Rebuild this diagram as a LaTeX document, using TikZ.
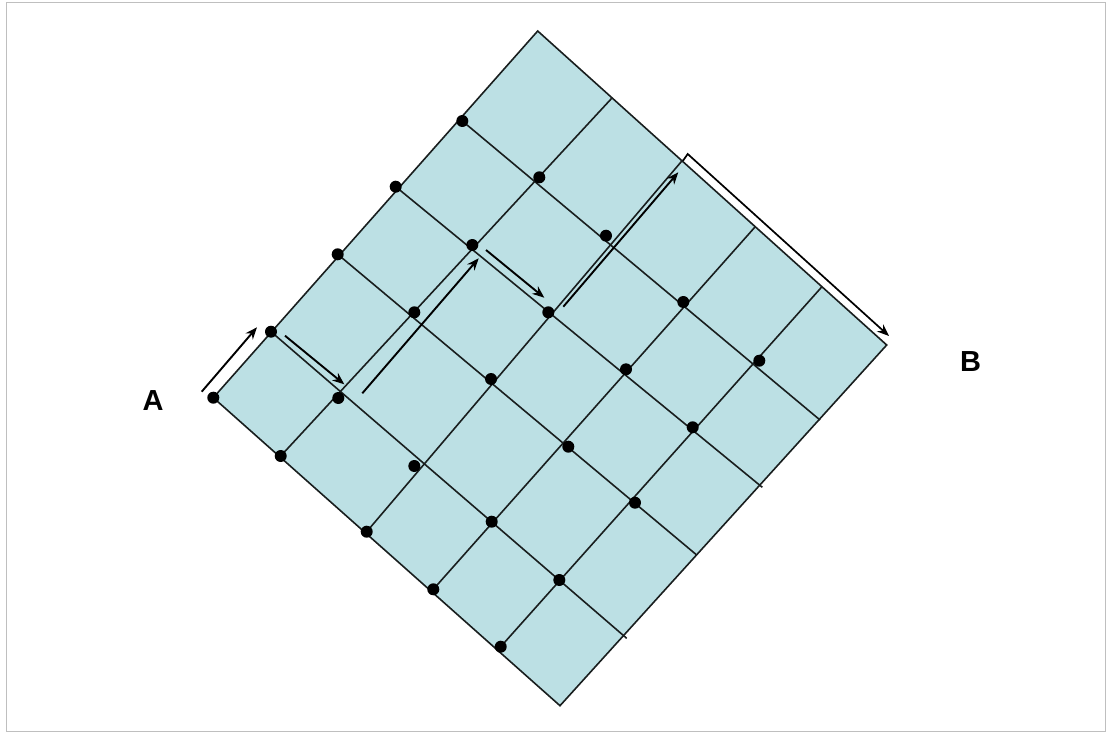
\documentclass[tikz,border=0pt]{standalone}
\usepackage{fontspec}
\setmainfont{Liberation Sans}
\usetikzlibrary{arrows.meta}
\definecolor{cellfill}{RGB}{188,224,228}
\definecolor{gridink}{RGB}{25,30,30}
\begin{document}
\begin{tikzpicture}[x=1pt,y=-1pt,
  gridline/.style={line width=1.6pt, draw=gridink},
  dot/.style={circle, fill=black, inner sep=0pt, minimum size=12pt},
  arr/.style={line width=1.9pt, draw=black, -{Stealth[length=12pt,width=9.5pt]}},
  lbl/.style={font=\fontsize{29}{29}\selectfont\bfseries, inner sep=0pt}]
\useasboundingbox (0,0) rectangle (1111,733);
\draw[black!25, line width=0.8pt] (6,2) rectangle (1105,731);
% outline corners
\coordinate (L) at (213.3,397.7);
\coordinate (T) at (537.7,31);
\coordinate (R) at (886.7,345);
\coordinate (Bo) at (560,705.7);
\fill[cellfill] (L) -- (T) -- (R) -- (Bo) -- cycle;
% down-right grid lines
\coordinate (v1a) at (271,331.7);   \coordinate (v1b) at (626.7,638.3);
\coordinate (v2a) at (337.7,254.3); \coordinate (v2b) at (696.7,555);
\coordinate (v3a) at (395.7,186.7); \coordinate (v3b) at (762.3,487.3);
\coordinate (v4a) at (462.3,121);   \coordinate (v4b) at (820,420);
% up-right grid lines
\coordinate (u1a) at (280.7,456);   \coordinate (u1b) at (611.7,98.3);
\coordinate (u2a) at (366.7,531.7); \coordinate (u2b) at (682.7,160);
\coordinate (u3a) at (433.3,589.3); \coordinate (u3b) at (755,227);
\coordinate (u4a) at (500.7,646.7); \coordinate (u4b) at (821.7,287);
\foreach \k in {1,2,3,4}{
  \draw[gridline] (v\k a) -- (v\k b);
  \draw[gridline] (u\k a) -- (u\k b);
}
\draw[gridline, line join=miter] (L) -- (T) -- (R) -- (Bo) -- cycle;
% dots
\node[dot] (d00) at (213.3,397.7) {};
\node[dot] (d10) at (280.7,456) {};
\node[dot] (d20) at (366.7,531.7) {};
\node[dot] (d30) at (433.3,589.3) {};
\node[dot] (d40) at (500.7,646.7) {};
\node[dot] (d01) at (271,331.7) {};
\node[dot] (d02) at (337.7,254.3) {};
\node[dot] (d03) at (395.7,186.7) {};
\node[dot] (d04) at (462.3,121) {};
\node[dot] (d11) at (338.3,398) {};
\node[dot] (d12) at (414.3,312.3) {};
\node[dot] (d13) at (472.3,245) {};
\node[dot] (d14) at (539.3,177.3) {};
\node[dot] (d21) at (414.3,466) {};
\node[dot] (d22) at (491,379) {};
\node[dot] (d23) at (548.3,312.3) {};
\node[dot] (d24) at (606,235.7) {};
\node[dot] (d31) at (491.7,521.7) {};
\node[dot] (d32) at (568.3,446.7) {};
\node[dot] (d33) at (626,369.3) {};
\node[dot] (d34) at (683.3,302) {};
\node[dot] (d41) at (559.3,580) {};
\node[dot] (d42) at (635,502.7) {};
\node[dot] (d43) at (692.7,427.3) {};
\node[dot] (d44) at (759.3,360.7) {};
% path arrows
\coordinate (a1s) at (201.7,391.7); \coordinate (a1e) at (257,327.3);
\coordinate (a2s) at (285,335.7);   \coordinate (a2e) at (344.3,384.3);
\coordinate (a3s) at (362.3,393.3); \coordinate (a3e) at (478.7,258.3);
\coordinate (a4s) at (486,250);     \coordinate (a4e) at (544.3,297.7);
\coordinate (a5s) at (563.3,306.7); \coordinate (a5e) at (678.3,172.3);
\draw[arr] (a1s) -- (a1e);
\draw[arr] (a2s) -- (a2e);
\draw[arr] (a3s) -- (a3e);
\draw[arr] (a4s) -- (a4e);
\draw[arr] (a5s) -- (a5e);
% bracket arrow along top-right side
\coordinate (b0) at (683,160.7);
\coordinate (b1) at (687.7,154);
\coordinate (b2) at (889,336);
\draw[arr, line width=1.7pt, line join=miter] (b0) -- (b1) -- (b2);
% labels
\node[lbl] (A) at (153,400.5) {A};
\node[lbl] (B) at (970.5,361.5) {B};
\end{tikzpicture}
\end{document}
